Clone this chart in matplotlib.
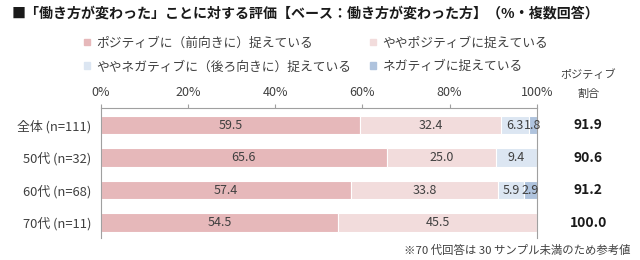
import matplotlib
matplotlib.use("Agg")
import matplotlib.pyplot as plt
from matplotlib.patches import Patch

plt.rcParams['font.family'] = ['Noto Sans CJK JP', 'DejaVu Sans']

# === données ===
groups = ["全体 (n=111)", "50代 (n=32)", "60代 (n=68)", "70代 (n=11)"]
series_names = ["ポジティブに（前向きに）捉えている", "ややポジティブに捉えている",
                "ややネガティブに（後ろ向きに）捉えている", "ネガティブに捉えている"]
positive = [59.5, 65.6, 57.4, 54.5]
slightly_positive = [32.4, 25.0, 33.8, 45.5]
slightly_negative = [6.3, 9.4, 5.9, 0.0]
negative = [1.8, 0.0, 2.9, 0.0]
positive_ratio = ["91.9", "90.6", "91.2", "100.0"]
ticks = [0, 20, 40, 60, 80, 100]

colors = ["#E6B8BA", "#F2DCDC", "#DCE6F2", "#AFC3DD"]
text_col = "#404040"

fig = plt.figure(figsize=(6.4, 2.6), dpi=100)
# axe : 0% à x=100.7px, 100% à x=536.7px, haut 108.3px, bas 237.7px
ax = fig.add_axes([100.7 / 640, 1 - 237.7 / 260, 436 / 640, 129.4 / 260])

series = [positive, slightly_positive, slightly_negative, negative]
ypos = list(range(len(groups)))
left = [0.0] * len(groups)
for vals, col in zip(series, colors):
    ax.barh(ypos, vals, left=left, height=0.57, color=col, edgecolor="white", linewidth=0.8)
    for y, v, l in zip(ypos, vals, left):
        if v > 0:
            ax.text(l + v / 2, y, f"{v:.1f}", ha="center", va="center", fontsize=9, color=text_col)
    left = [l + v for l, v in zip(left, vals)]

ax.set_xlim(0, 100)
ax.set_ylim(3.46, -0.52)
ax.set_yticks(ypos)
ax.set_yticklabels(groups, fontsize=9.3, color=text_col)
ax.tick_params(axis="y", length=0, pad=6.5)
ax.xaxis.tick_top()
ax.set_xticks(ticks)
ax.set_xticklabels([f"{t}%" for t in ticks], fontsize=9, color=text_col)
ax.tick_params(axis="x", length=3, color="#A0A0A0", pad=4)
for s in ["left", "right", "top"]:
    ax.spines[s].set_color("#A0A0A0")
    ax.spines[s].set_linewidth(0.8)
ax.spines["bottom"].set_visible(False)

# colonne de droite : part positive
ratio_x = (588.3 - 100.7) / 436
for y, r in zip(ypos, positive_ratio):
    ax.text(ratio_x, y, r, transform=ax.get_yaxis_transform(),
            ha="center", va="center", fontsize=10, fontweight="bold", color="#1a1a1a")
fig.text(588 / 640, 1 - 75 / 260, "ポジティブ", ha="center", va="center", fontsize=8, color=text_col)
fig.text(588 / 640, 1 - 94.3 / 260, "割合", ha="center", va="center", fontsize=8, color=text_col)

fig.text(11.7 / 640, 1 - 13 / 260, "■「働き方が変わった」ことに対する評価【ベース：働き方が変わった方】（%・複数回答）",
         ha="left", va="center", fontsize=10.1, fontweight="bold", color="#1a1a1a")

handles = [Patch(color=c) for c in colors]
order = [0, 2, 1, 3]
fig.legend([handles[i] for i in order], [series_names[i] for i in order],
           loc="upper left", bbox_to_anchor=(84 / 640, 1 - 36.6 / 260), ncol=2, frameon=False,
           fontsize=9.2, handlelength=0.45, handleheight=0.45, handletextpad=0.5,
           columnspacing=1.5, labelspacing=0.84, borderpad=0, borderaxespad=0,
           labelcolor=text_col)

fig.text(630 / 640, 1 - 250 / 260, "※70 代回答は 30 サンプル未満のため参考値",
         ha="right", va="center", fontsize=8.2, color=text_col)

fig.savefig("out.png", dpi=100, facecolor="white")
